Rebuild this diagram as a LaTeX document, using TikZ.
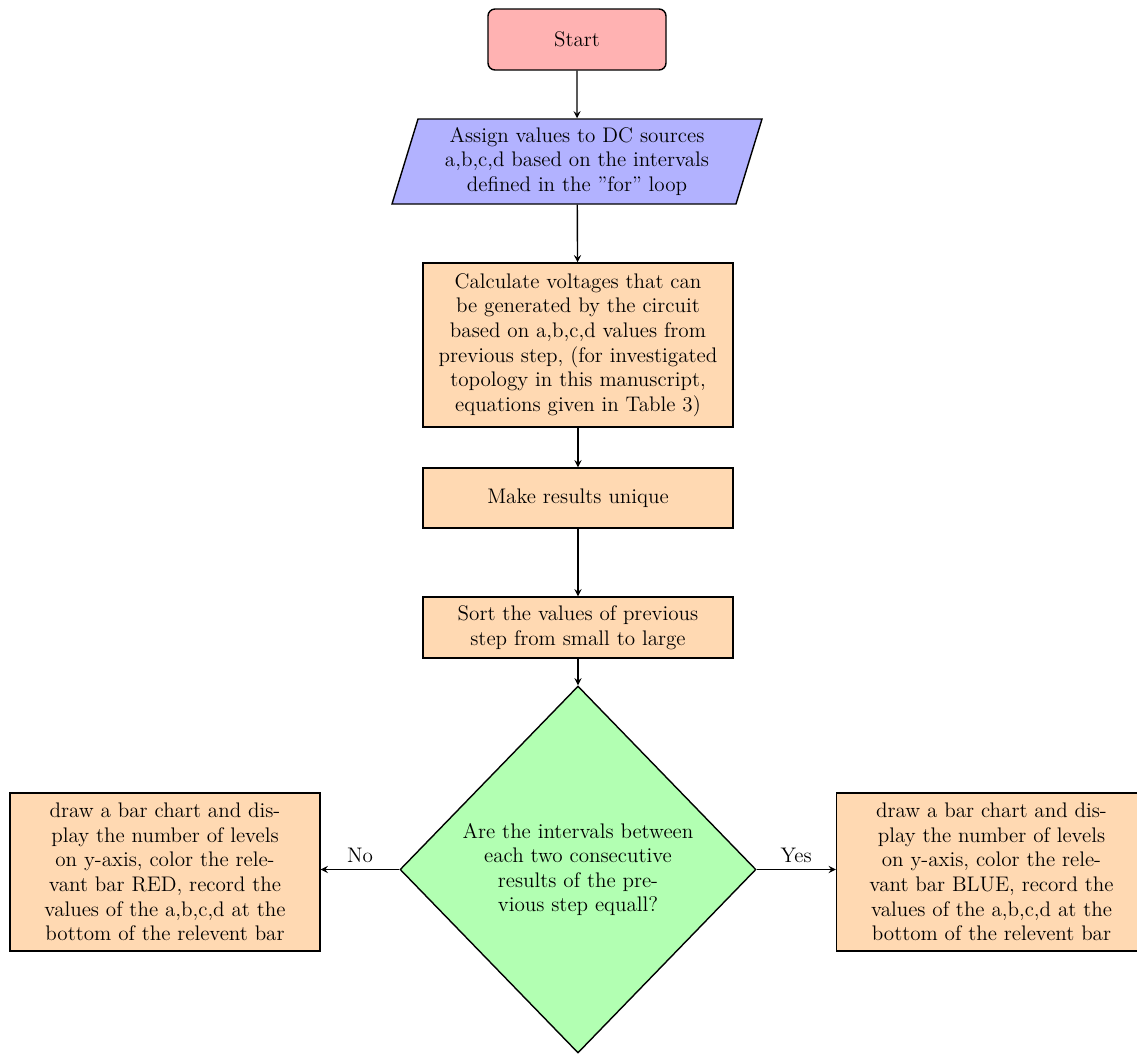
\documentclass[tikz,border=0pt]{standalone}
\usepackage{tikz}
\usetikzlibrary{positioning}
\usetikzlibrary{shapes,arrows}

\begin{document}
\begin{tikzpicture}[>=stealth, every node/.style={font=\large},
  startstop/.style={draw,thick,rounded corners,fill=red!30,minimum width=3.56cm,minimum height=1.22cm,align=center},
  io/.style={draw,thick,trapezium,trapezium left angle=72,trapezium right angle=108,trapezium stretches body,fill=blue!30,align=center,minimum width=7.4cm,minimum height=1.7cm},
  process/.style={draw,thick,fill=orange!30,minimum width=6.2cm,align=center},
  decision/.style={draw,thick,diamond,aspect=0.97,fill=green!30,align=center,minimum width=7.12cm,minimum height=7.34cm,inner sep=0pt},
  arrow/.style={thick,->}]

\useasboundingbox (0,0) rectangle (22.74,-21.06);

\node[startstop] (start) at (11.54,-0.79) {Start};

\node[io] (assign) at (11.54,-3.23) {Assign values to DC sources \\ a,b,c,d based on the intervals \\ defined in the "for" loop};

\node[process,minimum height=3.28cm] (calc) at (11.56,-6.9) {Calculate voltages that can \\ be generated by the circuit \\ based on a,b,c,d values from \\ previous step, (for investigated \\ topology in this manuscript, \\ equations given in Table 3)};

\node[process,minimum height=1.2cm] (unique) at (11.56,-9.96) {Make results unique};

\node[process,minimum height=1.22cm] (sort) at (11.56,-12.55) {Sort the values of previous \\ step from small to large};

\node[decision] (check) at (11.56,-17.39) {Are the intervals between \\ each two consecutive \\ results of the pre- \\ vious step equall?};

\node[process,minimum height=3.16cm] (red) at (3.3,-17.44) {draw a bar chart and dis- \\ play the number of levels \\ on y-axis, color the rele- \\ vant bar RED, record the \\ values of the a,b,c,d at the \\ bottom of the relevent bar};

\node[process,minimum height=3.16cm] (blue) at (19.83,-17.44) {draw a bar chart and dis- \\ play the number of levels \\ on y-axis, color the rele- \\ vant bar BLUE, record the \\ values of the a,b,c,d at the \\ bottom of the relevent bar};

\draw[arrow] (start) -- (assign);
\draw[arrow] (assign) -- (calc);
\draw[arrow] (calc) -- (unique);
\draw[arrow] (unique) -- (sort);
\draw[arrow] (sort) -- (check);
\draw[arrow] (check.west) -- node[above] {No} (check.west -| red.east);
\draw[arrow] (check.east) -- node[above] {Yes} (check.east -| blue.west);

\end{tikzpicture}
\end{document}
